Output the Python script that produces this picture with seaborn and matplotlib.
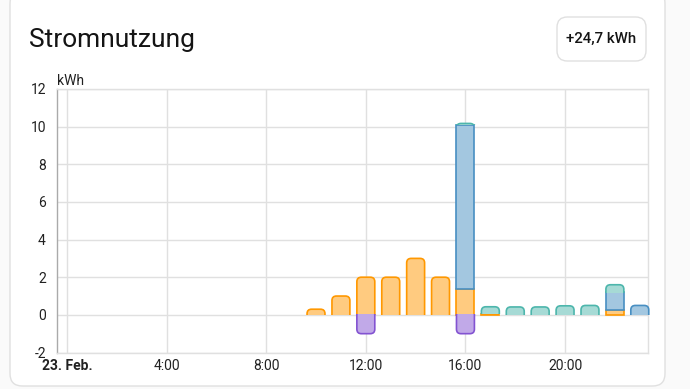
import numpy as np
import pandas as pd
import matplotlib
matplotlib.use("Agg")
import matplotlib.pyplot as plt
import seaborn as sns
from matplotlib.patches import FancyBboxPatch, Rectangle

# ---- data ----
hours = list(range(24))
solar   = [0,0,0,0,0,0,0,0,0,0,0.3,1.0,2.0,2.0,3.0,2.0,1.4,0.05,0,0,0,0,0.25,0]
grid    = [0,0,0,0,0,0,0,0,0,0,0,0,0,0,0,0,8.7,0,0,0,0,0,0.95,0.5]
battery = [0,0,0,0,0,0,0,0,0,0,0,0,0,0,0,0,0.07,0.38,0.42,0.42,0.48,0.5,0.4,0]
returned = [0,0,0,0,0,0,0,0,0,0,0,0,-1.0,0,0,0,-1.0,0,0,0,0,0,0,0]
tick_hours = [0, 4, 8, 12, 16, 20]
tick_labels = ["23. Feb.", "4:00", "8:00", "12:00", "16:00", "20:00"]
y_ticks = [-2, 0, 2, 4, 6, 8, 10, 12]
title = "Stromnutzung"
badge = "+24,7 kWh"
unit = "kWh"

df = pd.DataFrame({"hour": hours, "solar": solar, "grid": grid,
                   "battery": battery, "returned": returned})

sns.set_theme(style="white")
plt.rcParams["font.family"] = ["Roboto", "DejaVu Sans"]

fig = plt.figure(figsize=(6.9, 3.89), dpi=100)
fig.patch.set_facecolor("#fafafa")

# card background
card = FancyBboxPatch((10/690, 3/389), 655/690, 395/389,
                      boxstyle="round,pad=0,rounding_size=0.018",
                      transform=fig.transFigure, facecolor="white",
                      edgecolor="#e0e0e0", linewidth=1.0, mutation_aspect=690/389,
                      zorder=-5)
fig.patches.append(card)

ax = fig.add_axes([57/690, 1-352.5/389, (648-57)/690, (352.5-89)/389])
ax.set_facecolor("white")
ax.set_zorder(2)

colors = {
    "solar": ("#ff9800", "#ffcb80"),
    "grid": ("#488fc2", "#a3c7e0"),
    "battery": ("#4db6ac", "#a6dad5"),
    "returned": ("#8353d1", "#c1a9e8"),
}
width = 0.72
px_x = 591 / 23.73   # px per hour
px_y = 263.5 / 14    # px per kWh
r_px = 4.5
rx = r_px / px_x
ry = r_px / px_y
lw = 1.2

bottom = np.zeros(len(hours))
stack = ["solar", "grid", "battery"]
bar_sets = {}
for key in stack:
    vals = df[key].to_numpy()
    bars = ax.bar(df["hour"], vals, width=width, bottom=bottom,
                  color=colors[key][1], edgecolor=colors[key][0],
                  linewidth=lw, zorder=3)
    for b, v in zip(bars, vals):
        if v == 0:
            b.set_visible(False)
    bar_sets[key] = (bars, vals.copy(), bottom.copy())
    bottom = bottom + vals
neg = ax.bar(df["hour"], df["returned"], width=width,
             color=colors["returned"][1], edgecolor=colors["returned"][0],
             linewidth=lw, zorder=3)
for b, v in zip(neg, df["returned"]):
    if v == 0:
        b.set_visible(False)

# round the outer end of the outermost segment of each stack
top_key = {}
for i in range(len(hours)):
    for key in stack:
        if bar_sets[key][1][i] > 0:
            top_key[i] = key

def round_bar(rect, key, up=True):
    x, y = rect.get_x(), rect.get_y()
    w, h = rect.get_width(), rect.get_height()
    if h < 0:
        y, h = y + h, -h
    rect.set_visible(False)
    if up:
        box_y, box_h = y - ry, h + ry
    else:
        box_y, box_h = y, h + ry
    fb = FancyBboxPatch((x, box_y), w, box_h,
                        boxstyle=f"round,pad=0,rounding_size={rx}",
                        mutation_aspect=ry / rx,
                        facecolor=colors[key][1], edgecolor=colors[key][0],
                        linewidth=lw, zorder=3)
    ax.add_patch(fb)
    if up:
        clip = Rectangle((x - 0.1, y - 0.02), w + 0.2, h + 0.5, transform=ax.transData)
    else:
        clip = Rectangle((x - 0.1, y - 0.5), w + 0.2, h + 0.52,
                         transform=ax.transData)
    fb.set_clip_path(clip)

for i, key in top_key.items():
    round_bar(bar_sets[key][0][i], key, up=True)
for i, v in enumerate(df["returned"]):
    if v < 0:
        round_bar(neg[i], "returned", up=False)

ax.set_xlim(-0.4, 23.33)
ax.set_ylim(-2, 12)
ax.set_xticks(tick_hours)
ax.set_xticklabels(tick_labels)
ax.get_xticklabels()[0].set_fontweight("bold")
ax.set_yticks(y_ticks)
ax.set_yticklabels([str(v) for v in y_ticks])
ax.tick_params(axis="both", labelsize=10, colors="#212121", length=0, pad=5)
ax.tick_params(axis="y", length=6, color="#e0e0e0", pad=2)
ax.grid(True, color="#e0e0e0", linewidth=1.0, zorder=0)
ax.set_axisbelow(True)
for s in ["top", "right", "bottom"]:
    ax.spines[s].set_color("#e0e0e0")
    ax.spines[s].set_linewidth(1.0)
ax.spines["left"].set_color("#aaaaaa")
ax.spines["left"].set_linewidth(1.0)

fig.text(57.5/690, 1-81/389, unit, fontsize=10, color="#212121", va="center", ha="left")
fig.text(29/690, 1-40/389, title, fontsize=19, color="#141414", va="center", ha="left")

badge_box = FancyBboxPatch((557/690, 1-61/389), 89/690, 44/389,
                           boxstyle="round,pad=0,rounding_size=0.015",
                           mutation_aspect=690/389,
                           transform=fig.transFigure, facecolor="white",
                           edgecolor="#e0e0e0", linewidth=1.0)
fig.patches.append(badge_box)
fig.text(601.5/690, 1-39/389, badge, fontsize=10.8, fontweight="medium",
         color="#141414", va="center", ha="center")

fig.savefig("out.png", dpi=100, facecolor=fig.get_facecolor())
